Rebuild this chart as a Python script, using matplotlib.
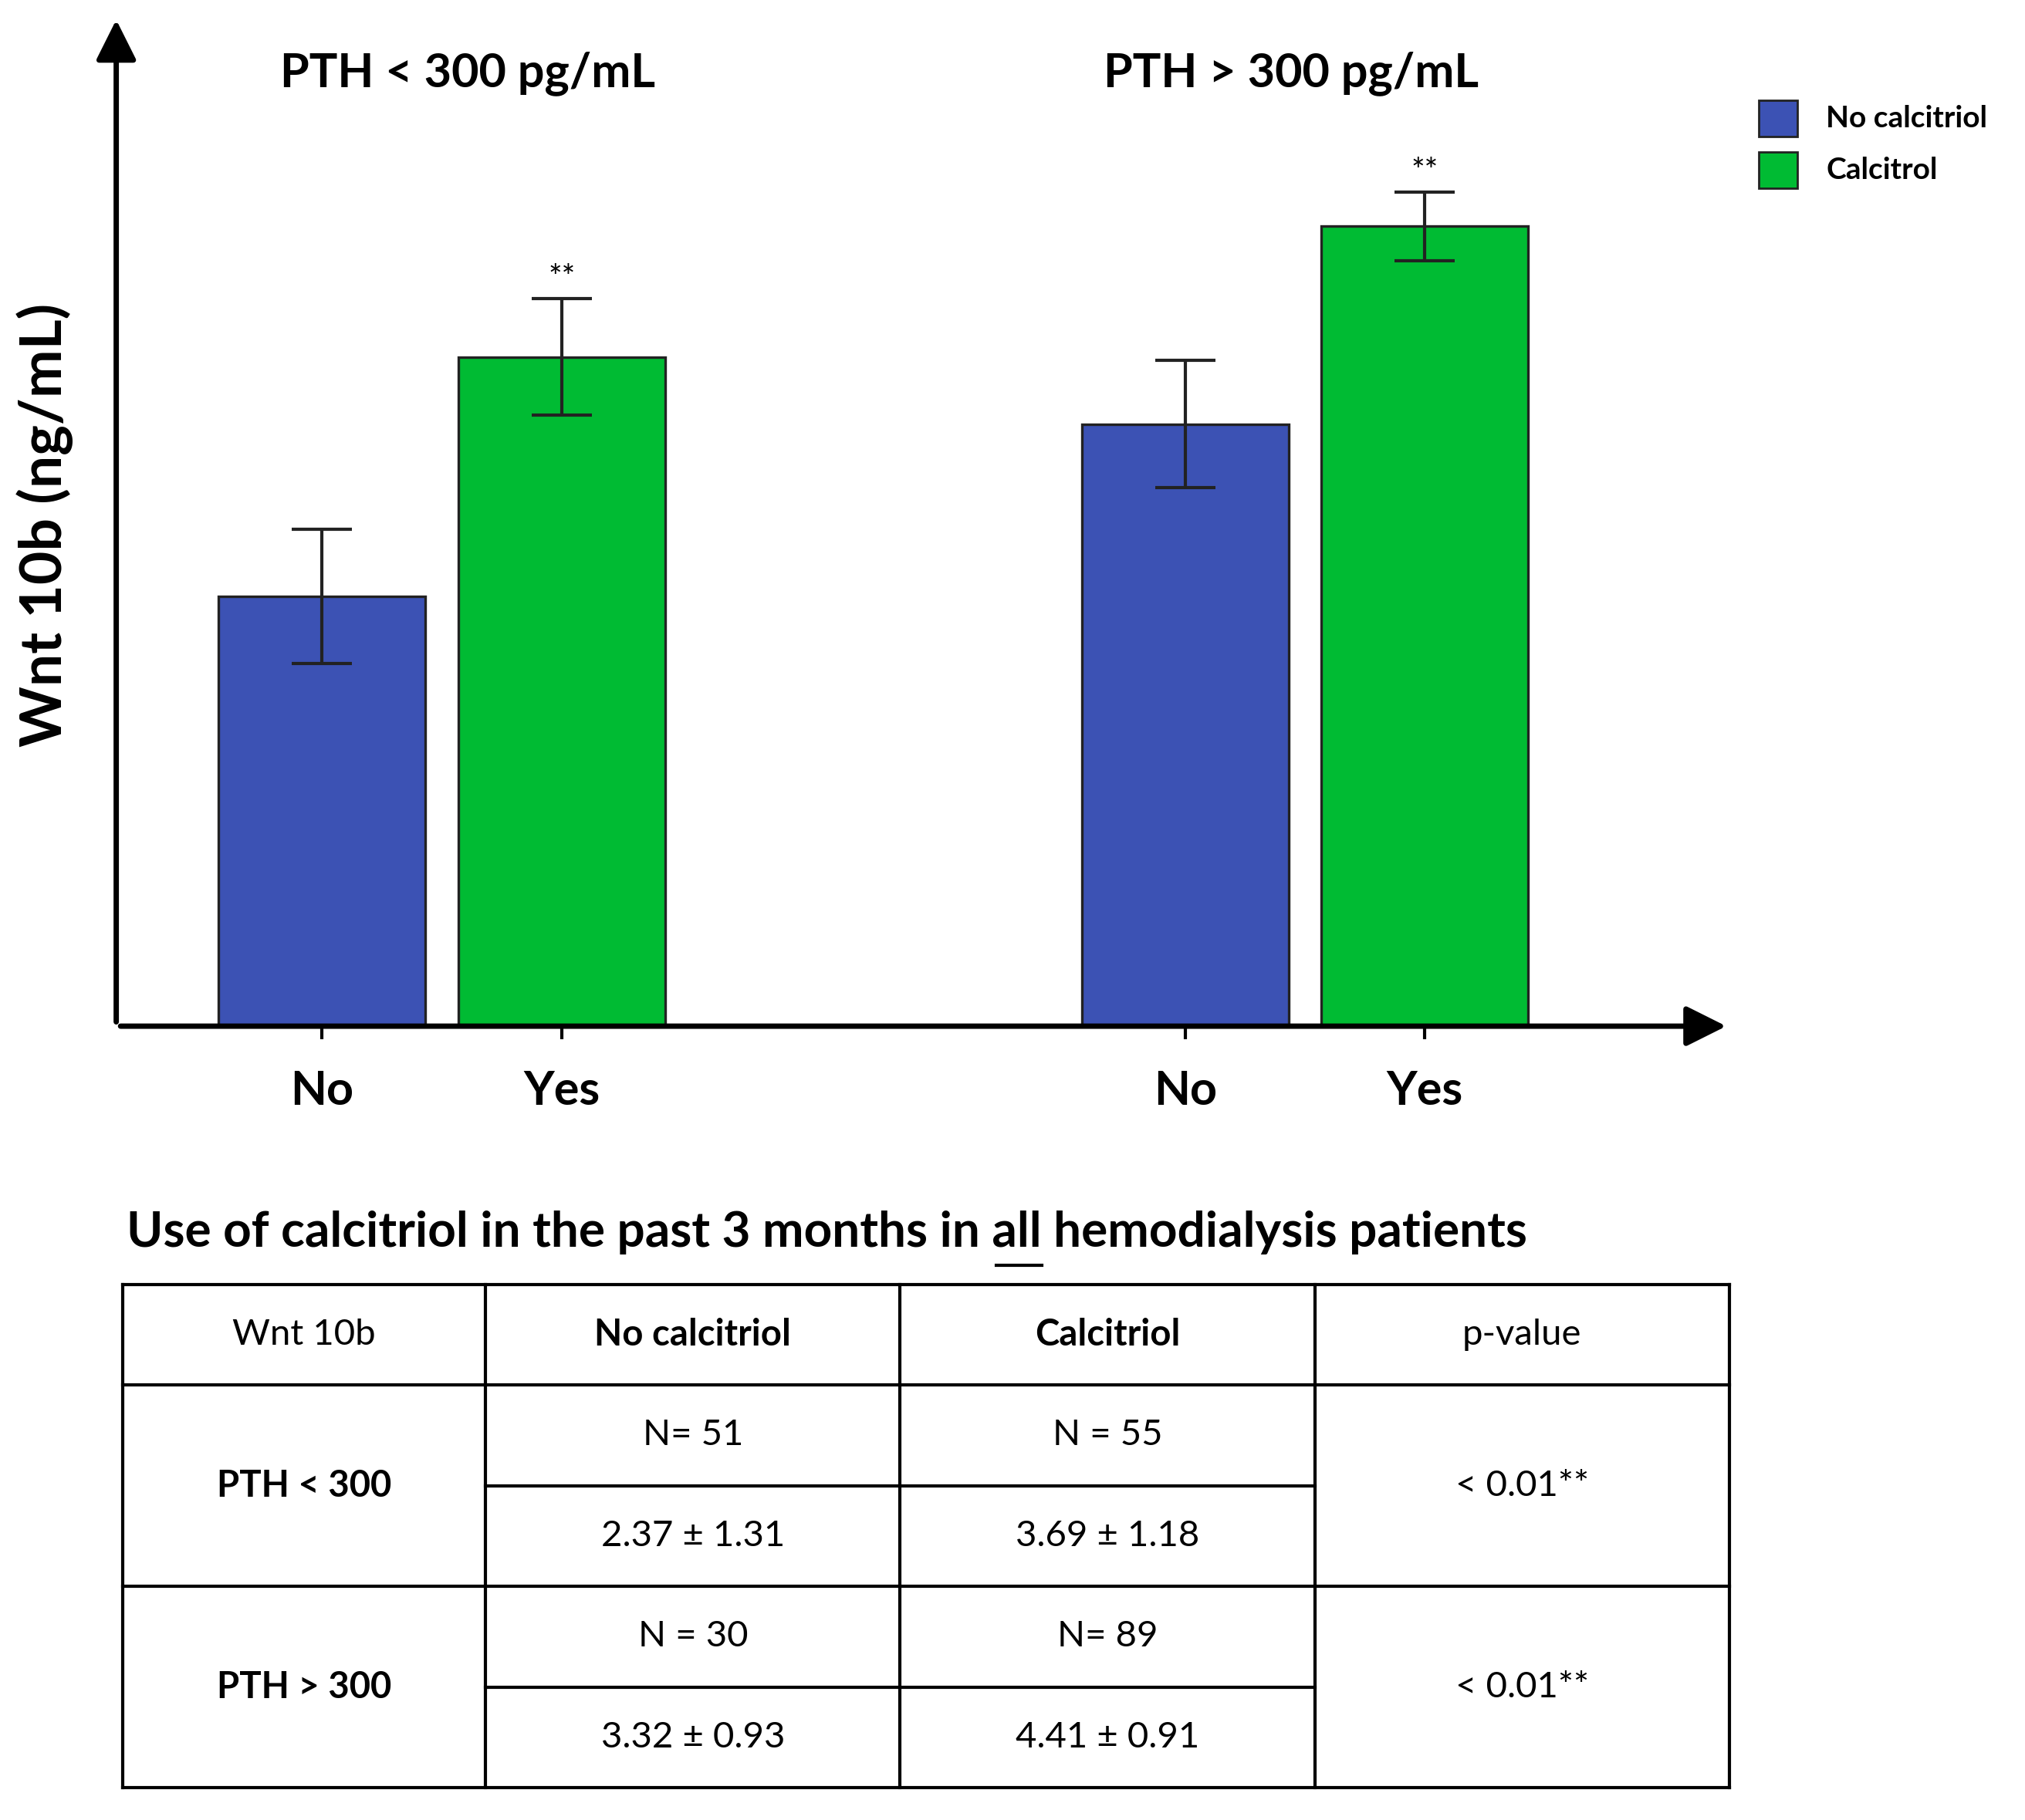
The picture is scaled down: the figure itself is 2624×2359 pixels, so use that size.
import matplotlib
matplotlib.use("Agg")
import matplotlib.pyplot as plt
from matplotlib.patches import FancyArrowPatch, Rectangle
from matplotlib.lines import Line2D

plt.rcParams['font.family'] = ['Lato', 'DejaVu Sans']

groups = ["PTH < 300 pg/mL", "PTH > 300 pg/mL"]
tick_labels = ["No", "Yes", "No", "Yes"]
means = [2.37, 3.69, 3.32, 4.41]
errs = [0.37, 0.32, 0.35, 0.19]
colors = ["#3c52b4", "#00bb33", "#3c52b4", "#00bb33"]
positions = [159, 345, 828, 1013]
sig = ["", "**", "", "**"]

table_rows = [
    ["Wnt 10b", "No calcitriol", "Calcitriol", "p-value"],
    ["PTH < 300", "N= 51", "N = 55", "< 0.01**"],
    ["", "2.37 ± 1.31", "3.69 ± 1.18", ""],
    ["PTH > 300", "N = 30", "N= 89", "< 0.01**"],
    ["", "3.32 ± 0.93", "4.41 ± 0.91", ""],
]

W, H = 1568, 1410
fig = plt.figure(figsize=(13.12, 11.795), dpi=200)

def fx(x): return x / W
def fy(y): return 1 - y / H

ax = fig.add_axes([fx(90), fy(795), fx(1335) - fx(90), fy(18) - fy(795)])
ax.set_xlim(0, 1245)
ax.set_ylim(0, 5.53)
ax.bar(positions, means, width=160, color=colors, edgecolor="#222222", linewidth=1.2, zorder=2)
ax.errorbar(positions, means, yerr=errs, fmt="none", ecolor="#222222", elinewidth=1.5, capsize=14, capthick=1.5, zorder=3)
for p, m, e, s in zip(positions, means, errs, sig):
    if s:
        ax.text(p, m + e + 0.03, s, ha="center", va="bottom", fontsize=15)
for sp in ax.spines.values():
    sp.set_visible(False)
ax.set_yticks([])
ax.set_xticks(positions)
ax.set_xticklabels(tick_labels, fontsize=22, fontweight="bold")
ax.tick_params(axis="x", length=6, width=1.5, pad=14)
ax.set_ylabel("Wnt 10b (ng/mL)", fontsize=27, fontweight="bold", labelpad=20)
# axis arrows
fig.add_artist(FancyArrowPatch((fx(90), fy(795)), (fx(1340), fy(795)), arrowstyle="-|>,head_length=8,head_width=4", lw=2.5, color="black", mutation_scale=2))
fig.add_artist(FancyArrowPatch((fx(90), fy(795)), (fx(90), fy(12)), arrowstyle="-|>,head_length=8,head_width=4", lw=2.5, color="black", mutation_scale=2))

fig.text(fx(362), fy(57), groups[0], ha="center", va="center", fontsize=22, fontweight="bold")
fig.text(fx(1000), fy(57), groups[1], ha="center", va="center", fontsize=22, fontweight="bold")

# legend
for y, c, lab in [(92, colors[0], "No calcitriol"), (132, colors[1], "Calcitrol")]:
    fig.add_artist(Rectangle((fx(1362), fy(y + 14)), fx(30), fy(0) - fy(28), facecolor=c, edgecolor="#222222", lw=1))
    fig.text(fx(1414), fy(y), lab, ha="left", va="center", fontsize=14, fontweight="bold")

# table title
title = "Use of calcitriol in the past 3 months in all hemodialysis patients"
t = fig.text(fx(98), fy(955), title, ha="left", va="center", fontsize=23, fontweight="bold")
fig.canvas.draw()
r = fig.canvas.get_renderer()
pre = fig.text(fx(98), fy(955), "Use of calcitriol in the past 3 months in ", fontsize=23, fontweight="bold", alpha=0)
pre2 = fig.text(fx(98), fy(955), "Use of calcitriol in the past 3 months in all", fontsize=23, fontweight="bold", alpha=0)
b1 = pre.get_window_extent(r); b2 = pre2.get_window_extent(r)
fw = fig.bbox.width
fig.add_artist(Line2D([b1.x1 / fw + 0.002, b2.x1 / fw], [fy(980), fy(980)], color="black", lw=1.5))

# table
cols = [95, 376, 697, 1018, 1339]
rows = [995, 1073, 1151, 1229, 1307, 1385]
lw = 1.5
for x in cols:
    fig.add_artist(Line2D([fx(x)] * 2, [fy(995), fy(1385)], color="black", lw=lw))
for y in [995, 1073, 1229, 1385]:
    fig.add_artist(Line2D([fx(95), fx(1339)], [fy(y)] * 2, color="black", lw=lw))
for y in [1151, 1307]:
    fig.add_artist(Line2D([fx(376), fx(1018)], [fy(y)] * 2, color="black", lw=lw))

def cx(i): return fx((cols[i] + cols[i + 1]) / 2)
for j, txt in enumerate(table_rows[0]):
    fig.text(cx(j), fy(1034), txt, ha="center", va="center", fontsize=17, fontweight="bold" if j in (1, 2) else "normal")
for k, (ra, rb) in enumerate([(1, 2), (3, 4)]):
    ytop = rows[1 + 2 * k]
    ymid = ytop + 78
    fig.text(cx(0), fy(ymid), table_rows[ra][0], ha="center", va="center", fontsize=17, fontweight="bold")
    fig.text(cx(3), fy(ymid), table_rows[ra][3], ha="center", va="center", fontsize=17)
    for j in (1, 2):
        fig.text(cx(j), fy(ytop + 39), table_rows[ra][j], ha="center", va="center", fontsize=17)
        fig.text(cx(j), fy(ytop + 117), table_rows[rb][j], ha="center", va="center", fontsize=17)

fig.savefig("out.png", dpi=200, facecolor="white")
